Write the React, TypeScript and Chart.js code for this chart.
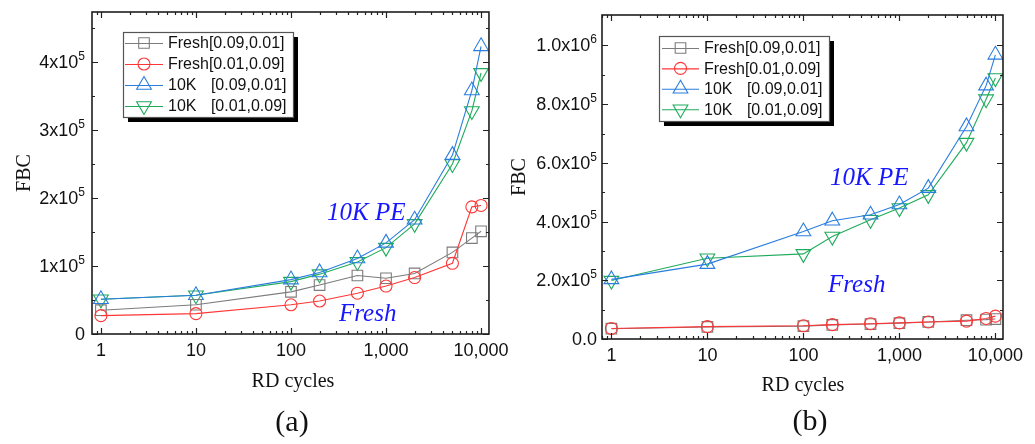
import React, { useEffect, useRef } from 'react';
import { Chart, registerables } from 'chart.js';
Chart.register(...registerables);

const SANS = "'Liberation Sans', Arial, sans-serif";
const SERIF = "'Liberation Serif', 'Times New Roman', serif";

// ---- data ----
const rdCycles = [1, 10, 100, 200, 500, 1000, 2000, 5000, 8000, 10000];

// panel (a)
const aFresh0901 = [35000, 43000, 62000, 72000, 86000, 82000, 89000, 120000, 141000, 151000];
const aFresh0109 = [27000, 30000, 43000, 48500, 60000, 70500, 83000, 104000, 187000, 189000];
const a10K0901 = [51000, 57000, 80000, 90500, 111000, 134000, 168000, 263000, 358000, 423000];
const a10K0109 = [51000, 57000, 77000, 88000, 106000, 127000, 162000, 250000, 328000, 384000];

// panel (b)
const bFresh0901 = [35000, 41000, 44000, 48000, 51000, 54000, 58000, 64000, 66000, 68000];
const bFresh0109 = [36000, 42000, 45000, 49000, 52000, 55000, 58000, 61000, 70000, 78000];
const b10K0901 = [203000, 255000, 366000, 403000, 423000, 458000, 514000, 724000, 863000, 968000];
const b10K0109 = [199000, 275000, 290000, 349000, 406000, 446000, 491000, 669000, 817000, 889000];

const xTickValues = [1, 10, 100, 1000, 10000];
const aYTicks = [0, 100000, 200000, 300000, 400000];
const aYMinor = [50000, 150000, 250000, 350000, 450000];
const bYTicks = [0, 200000, 400000, 600000, 800000, 1000000];
const bYMinor = [100000, 300000, 500000, 700000, 900000];

const seriesNames = ['Fresh', 'Fresh', '10K', '10K'];
const seriesRanges = ['[0.09,0.01]', '[0.01,0.09]', '[0.09,0.01]', '[0.01,0.09]'];

// ---- styles ----
const seriesColors = ['#7c7c7c', '#ff3636', '#2a7ddf', '#1fab5c'];
const seriesShapes = ['rect', 'circle', 'triangle', 'triangle'];
const seriesRotations = [0, 0, 0, 180];
const seriesRadii = [7.5, 6, 8.5, 8.5];
const seriesOrder = [1, 0, 2, 3];

function drawMarker(ctx: CanvasRenderingContext2D, shape: string, x: number, y: number, r: number, rot: number, color: string) {
  ctx.save();
  ctx.strokeStyle = color;
  ctx.lineWidth = 1.1;
  ctx.beginPath();
  if (shape === 'circle') {
    ctx.arc(x, y, r, 0, Math.PI * 2);
  } else if (shape === 'rect') {
    const s = r * Math.SQRT1_2;
    ctx.rect(x - s, y - s, 2 * s, 2 * s);
  } else {
    let a = (rot * Math.PI) / 180;
    ctx.moveTo(x + Math.sin(a) * r, y - Math.cos(a) * r);
    a += (2 * Math.PI) / 3;
    ctx.lineTo(x + Math.sin(a) * r, y - Math.cos(a) * r);
    a += (2 * Math.PI) / 3;
    ctx.lineTo(x + Math.sin(a) * r, y - Math.cos(a) * r);
    ctx.closePath();
  }
  ctx.stroke();
  ctx.restore();
}

function makeDecor(cfg: any) {
  return {
    id: 'decor' + cfg.id,
    afterDatasetsDraw(chart: any) {
      const { ctx, chartArea: ca, scales } = chart;
      const xs = scales.x;
      const ys = scales.y;
      ctx.save();
      ctx.strokeStyle = '#222';
      ctx.lineWidth = 1.2;
      ctx.beginPath();
      for (let e = -1; e <= 4; e++) {
        for (let k = 1; k <= 9; k++) {
          const v = k * Math.pow(10, e);
          if (v < cfg.xMin || v > cfg.xMax) continue;
          const px = Math.round(xs.getPixelForValue(v)) + 0.5;
          const L = k === 1 ? 6 : 3;
          ctx.moveTo(px, ca.bottom);
          ctx.lineTo(px, ca.bottom - L);
          ctx.moveTo(px, ca.top);
          ctx.lineTo(px, ca.top + L);
        }
      }
      const yAll = cfg.yTicks.map((v: number) => ({ v, L: 6 })).concat(cfg.yMinor.map((v: number) => ({ v, L: 3 })));
      yAll.forEach((t: any) => {
        const py = Math.round(ys.getPixelForValue(t.v)) + 0.5;
        ctx.moveTo(ca.left, py);
        ctx.lineTo(ca.left + t.L, py);
        ctx.moveTo(ca.right, py);
        ctx.lineTo(ca.right - t.L, py);
      });
      ctx.stroke();
      ctx.lineWidth = 1.6;
      ctx.strokeStyle = '#1e1e1e';
      ctx.strokeRect(ca.left, ca.top, ca.right - ca.left, ca.bottom - ca.top);
      ctx.restore();
    },
    afterDraw(chart: any) {
      const { ctx, chartArea: ca, scales } = chart;
      const ys = scales.y;
      ctx.save();

      // y tick labels with superscript exponents, placed by the y scale
      ctx.fillStyle = '#111';
      ctx.textBaseline = 'middle';
      const right = ca.left - cfg.yLabelPad;
      cfg.yTicks.forEach((v: number) => {
        const py = ys.getPixelForValue(v);
        const [base, sup] = cfg.yLabel(v);
        let end = right;
        if (sup) {
          ctx.font = `12px ${SANS}`;
          const sw = ctx.measureText(sup).width;
          ctx.textAlign = 'left';
          ctx.fillText(sup, right - sw, py - 5.5);
          end = right - sw;
        }
        ctx.font = `18px ${SANS}`;
        ctx.textAlign = 'right';
        ctx.fillText(base, end, py + 1);
      });

      // axis titles
      ctx.fillStyle = '#111';
      ctx.font = `20px ${SERIF}`;
      ctx.textAlign = 'center';
      ctx.textBaseline = 'middle';
      ctx.fillText('RD cycles', cfg.xTitle.x, cfg.xTitle.y);
      ctx.save();
      ctx.translate(cfg.yTitle.x, cfg.yTitle.y);
      ctx.rotate(-Math.PI / 2);
      ctx.fillText('FBC', 0, 0);
      ctx.restore();
      ctx.font = `30px ${SERIF}`;
      ctx.fillText(cfg.caption.text, cfg.caption.x, cfg.caption.y);

      // annotations
      ctx.fillStyle = '#1717ff';
      ctx.font = `italic 25px ${SERIF}`;
      ctx.textAlign = 'left';
      ctx.textBaseline = 'alphabetic';
      ctx.fillText('10K PE', cfg.peLabel.x, cfg.peLabel.y);
      ctx.fillText('Fresh', cfg.freshLabel.x, cfg.freshLabel.y);

      // legend
      const lg = cfg.legend;
      ctx.fillStyle = '#000';
      ctx.fillRect(lg.x + 5, lg.y + 5, lg.w, lg.h);
      ctx.fillStyle = '#fff';
      ctx.fillRect(lg.x, lg.y, lg.w, lg.h);
      ctx.strokeStyle = '#555';
      ctx.lineWidth = 1.2;
      ctx.strokeRect(lg.x + 0.5, lg.y + 0.5, lg.w, lg.h);
      ctx.font = `16px ${SANS}`;
      ctx.textBaseline = 'middle';
      const freshW = ctx.measureText('Fresh').width;
      for (let i = 0; i < 4; i++) {
        const ry = lg.rowY0 + i * lg.rowStep;
        ctx.strokeStyle = seriesColors[i];
        ctx.lineWidth = 1.1;
        ctx.beginPath();
        ctx.moveTo(lg.lineX1, ry + 0.5);
        ctx.lineTo(lg.lineX2, ry + 0.5);
        ctx.stroke();
        drawMarker(ctx, seriesShapes[i], (lg.lineX1 + lg.lineX2) / 2, ry, seriesRadii[i], seriesRotations[i], seriesColors[i]);
        ctx.fillStyle = '#111';
        ctx.fillText(seriesNames[i], lg.textX, ry + 1);
        ctx.fillText(seriesRanges[i], lg.textX + freshW + (seriesNames[i] === 'Fresh' ? 0 : 2), ry + 1);
      }
      ctx.restore();
    },
  };
}

function buildChart(canvas: HTMLCanvasElement, cfg: any) {
  const datasets = cfg.series.map((vals: number[], i: number) => ({
    label: seriesNames[i] + seriesRanges[i],
    data: rdCycles.map((x, j) => ({ x, y: vals[j] })),
    order: seriesOrder[i],
    borderColor: seriesColors[i],
    borderWidth: 1.1,
    pointStyle: seriesShapes[i],
    pointRadius: seriesRadii[i],
    pointRotation: seriesRotations[i],
    pointBorderColor: seriesColors[i],
    pointBackgroundColor: 'rgba(0,0,0,0)',
    pointBorderWidth: 1.1,
    tension: 0,
    clip: false,
  }));
  return new Chart(canvas, {
    type: 'line',
    data: { datasets },
    options: {
      animation: false,
      responsive: false,
      layout: { padding: { left: 0, right: cfg.padRight, top: cfg.padTop, bottom: 0 } },
      plugins: { legend: { display: false }, tooltip: { enabled: false } },
      scales: {
        x: {
          type: 'logarithmic',
          min: cfg.xMin,
          max: cfg.xMax,
          grid: { display: false, drawTicks: false },
          border: { display: false },
          ticks: {
            autoSkip: false,
            maxRotation: 0,
            padding: 6,
            color: '#111',
            font: { family: SANS, size: 18 },
            callback: (v: any) => Number(v).toLocaleString('en-US'),
          },
          afterBuildTicks: (s: any) => {
            s.ticks = xTickValues.map((v) => ({ value: v }));
          },
          afterFit: (s: any) => {
            s.height = cfg.xAxisHeight;
          },
        },
        y: {
          type: 'linear',
          min: 0,
          max: cfg.yMax,
          grid: { display: false, drawTicks: false },
          border: { display: false },
          ticks: { display: false },
          afterBuildTicks: (s: any) => {
            s.ticks = cfg.yTicks.map((v: number) => ({ value: v }));
          },
          afterFit: (s: any) => {
            s.width = cfg.yAxisWidth;
          },
        },
      },
    },
    plugins: [makeDecor(cfg)],
  } as any);
}

const cfgA = {
  id: 'a',
  series: [aFresh0901, aFresh0109, a10K0901, a10K0109],
  padRight: 21,
  padTop: 12,
  yAxisWidth: 92,
  xAxisHeight: 110,
  xMin: 0.806,
  xMax: 12110,
  yMax: 473500,
  yTicks: aYTicks,
  yMinor: aYMinor,
  yLabelPad: 7,
  yLabel: (v: number) => (v === 0 ? ['0', ''] : [`${v / 1e5}x10`, '5']),
  yTitle: { x: 25, y: 173 },
  xTitle: { x: 293, y: 382 },
  caption: { text: '(a)', x: 292, y: 423 },
  peLabel: { x: 327, y: 220 },
  freshLabel: { x: 339, y: 321 },
  legend: { x: 123, y: 32, w: 170, h: 85, rowY0: 43, rowStep: 21, lineX1: 125, lineX2: 163, textX: 168 },
};

const cfgB = {
  id: 'b',
  series: [bFresh0901, bFresh0109, b10K0901, b10K0109],
  padRight: 32,
  padTop: 15,
  yAxisWidth: 97,
  xAxisHeight: 105,
  xMin: 0.798,
  xMax: 12000,
  yMax: 1103700,
  yTicks: bYTicks,
  yMinor: bYMinor,
  yLabelPad: 5,
  yLabel: (v: number) => {
    if (v === 0) return ['0.0', ''];
    if (v >= 1e6) return [`${(v / 1e6).toFixed(1)}x10`, '6'];
    return [`${(v / 1e5).toFixed(1)}x10`, '5'];
  },
  yTitle: { x: 15, y: 177 },
  xTitle: { x: 298, y: 386 },
  caption: { text: '(b)', x: 305, y: 422 },
  peLabel: { x: 325, y: 185 },
  freshLabel: { x: 323, y: 292 },
  legend: { x: 154, y: 36, w: 170, h: 85, rowY0: 48, rowStep: 20.4, lineX1: 157, lineX2: 194, textX: 199 },
};

export default function App() {
  const refA = useRef<HTMLCanvasElement>(null);
  const refB = useRef<HTMLCanvasElement>(null);
  useEffect(() => {
    const a = buildChart(refA.current as HTMLCanvasElement, cfgA);
    const b = buildChart(refB.current as HTMLCanvasElement, cfgB);
    return () => {
      a.destroy();
      b.destroy();
    };
  }, []);
  return (
    <div style={{ position: 'absolute', left: 0, top: 0, width: 1035, height: 444, background: '#fff', overflow: 'hidden' }}>
      <canvas ref={refA} width={515} height={444} style={{ position: 'absolute', left: 0, top: 0, width: 515, height: 444 }} />
      <canvas ref={refB} width={530} height={444} style={{ position: 'absolute', left: 505, top: 0, width: 530, height: 444 }} />
    </div>
  );
}
